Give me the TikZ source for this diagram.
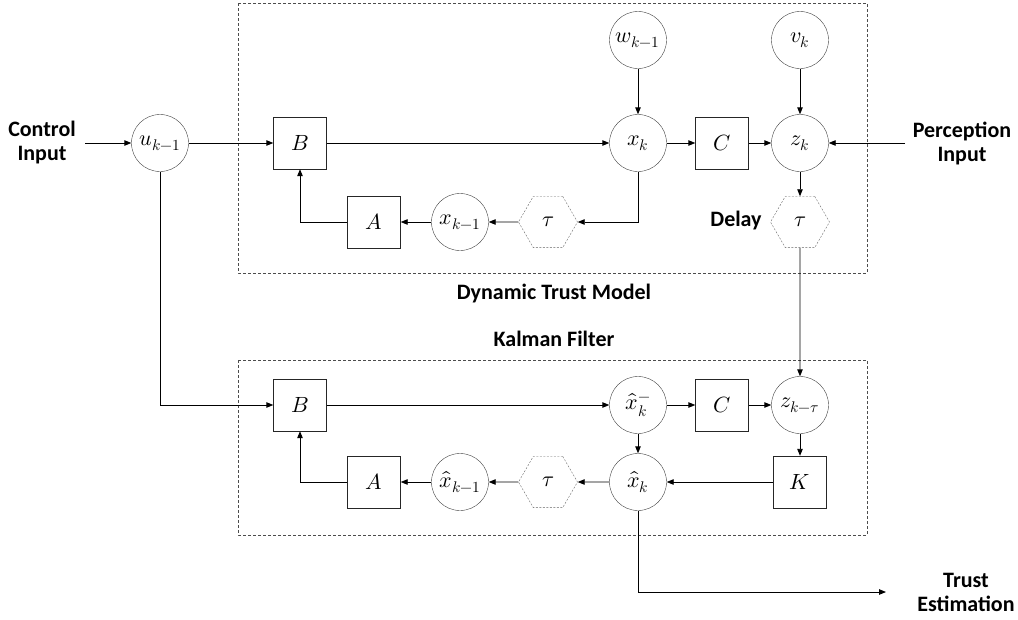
\documentclass[tikz,border=0pt]{standalone}
\usepackage{fontspec}
\usepackage{unicode-math}
\setmainfont{Carlito}
\setmathfont{Latin Modern Math}
\usetikzlibrary{arrows.meta,shapes.geometric}
\begin{document}
\begin{tikzpicture}[x=1pt,y=-1pt,
  mfont/.style={font=\fontsize{22}{26}\selectfont},
  circ/.style={circle, draw=black!75, minimum size=57pt, inner sep=0pt, mfont},
  blk/.style={rectangle, draw=black!85, minimum width=53pt, minimum height=52pt, inner sep=0pt, mfont},
  hex/.style={regular polygon, regular polygon sides=6, draw=black!60, dash pattern=on 2pt off 1.5pt, minimum size=59pt, inner sep=0pt, mfont},
  lbl/.style={font=\fontsize{22}{24}\selectfont\bfseries, align=center},
  arr/.style={draw=black, line width=0.9pt, -{Triangle[length=7pt,width=5.5pt]}},
  frame/.style={draw=black!70, line width=0.9pt, dash pattern=on 3pt off 2pt}]
\useasboundingbox (0,0) rectangle (1018,619);

% frames
\draw[frame] (238,3) rectangle (867,273);
\draw[frame] (238,360) rectangle (867,535);

% top: dynamic trust model
\node[circ] (u) at (160,143) {$u_{k-1}$};
\node[blk] (B1) at (300,143) {$B$};
\node[circ] (x) at (638,143) {$x_k$};
\node[blk] (C1) at (722,143) {$C$};
\node[circ] (z) at (800,143) {$z_k$};
\node[circ] (w) at (638,40) {$w_{k-1}$};
\node[circ] (v) at (800,40) {$v_k$};
\node[blk] (A1) at (374,222) {$A$};
\node[circ] (xm) at (460,222) {$x_{k-1}$};
\node[hex] (t1) at (548,222) {$\tau$};
\node[hex] (t2) at (800,222) {$\tau$};

\node[lbl] (delay) at (736,221) {Delay};
\node[lbl] (ci) at (42,143) {Control\\Input};
\node[lbl] (pi) at (962,143) {Perception\\Input};
\node[lbl] (dtm) at (554,294) {Dynamic Trust Model};
\node[lbl] (kf) at (554,339) {Kalman Filter};
\node[lbl] (te) at (966,592) {Trust\\Estimation};
\coordinate (cin) at (85,143);
\coordinate (pin) at (905,143);
\coordinate (tout) at (886,592);

% bottom: Kalman filter
\node[blk] (B2) at (300,405) {$B$};
\node[circ] (xhm) at (638,405) {$\hat{x}_k^-$};
\node[blk] (C2) at (722,405) {$C$};
\node[circ] (zt) at (800,405) {$z_{k-\tau}$};
\node[blk] (K) at (800,482) {$K$};
\node[circ] (xh) at (638,482) {$\hat{x}_k$};
\node[hex] (t3) at (548,482) {$\tau$};
\node[circ] (xhp) at (460,482) {$\hat{x}_{k-1}$};
\node[blk] (A2) at (374,482) {$A$};

% connectors top
\draw[arr] (cin) -- (u);
\draw[arr] (u) -- (B1);
\draw[arr] (B1) -- (x);
\draw[arr] (w) -- (x);
\draw[arr] (v) -- (z);
\draw[arr] (x) -- (C1);
\draw[arr] (C1) -- (z);
\draw[arr] (pin) -- (z);
\draw[arr] (x.south) |- (t1.east);
\draw[arr] (t1) -- (xm);
\draw[arr] (xm) -- (A1);
\draw[arr] (A1.west) -| (B1.south);
\draw[arr] (z) -- (t2);
\draw[arr] (t2) -- (zt);

% connectors bottom
\draw[arr] (u.south) |- (B2.west);
\draw[arr] (B2) -- (xhm);
\draw[arr] (xhm) -- (C2);
\draw[arr] (C2) -- (zt);
\draw[arr] (zt) -- (K);
\draw[arr] (K) -- (xh);
\draw[arr] (xhm) -- (xh);
\draw[arr] (xh) -- (t3);
\draw[arr] (t3) -- (xhp);
\draw[arr] (xhp) -- (A2);
\draw[arr] (A2.west) -| (B2.south);
\draw[arr] (xh.south) |- (tout);
\end{tikzpicture}
\end{document}
